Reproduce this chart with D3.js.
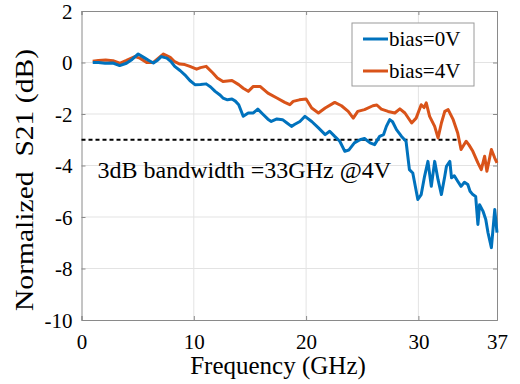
<!DOCTYPE html>
<html>
<head>
<meta charset="utf-8">
<script src="https://cdn.jsdelivr.net/npm/d3@7"></script>
<style>
  body { margin: 0; background: #fff; }
</style>
</head>
<body>
<div id="chart_div"></div>
<script>
// data
const freq_0V = [1.0, 1.5, 2.1, 2.8, 3.4, 4.0, 4.5, 5.05, 5.65, 6.0, 6.4, 6.8, 7.1, 7.6, 8.0, 8.3, 8.8, 9.2, 9.65, 10.1,
  10.6, 11.1, 11.5, 11.9, 12.3, 12.6, 13.0, 13.4, 13.7, 14.0, 14.4, 14.85, 15.3, 15.7, 16.2, 16.6, 16.9, 17.4, 17.9, 18.3,
  18.7, 19.0, 19.45, 19.9, 20.5, 21.1, 21.7, 22.1, 22.55, 23.0, 23.45, 23.8, 24.3, 24.8, 25.2, 25.7, 26.1, 26.55, 26.9, 27.15,
  27.45, 27.7, 28.05, 28.5, 28.9, 29.2, 29.5, 29.95, 30.25, 30.55, 30.85, 31.15, 31.45, 31.75, 32.05, 32.35, 32.5, 32.8, 32.95, 33.2,
  33.5, 33.8, 34.1, 34.4, 34.6, 34.85, 35.1, 35.3, 35.45, 35.75, 36.0, 36.2, 36.5, 36.8, 37.0];
const s21_0V = [0, 0, -0.03, -0.02, -0.12, -0.03, 0.12, 0.33, 0.17, 0.08, -0.02, 0.1, 0.23, 0.17, 0.02, -0.15, -0.32, -0.48, -0.7, -0.86,
  -0.85, -0.83, -0.95, -1.12, -1.25, -1.38, -1.45, -1.42, -1.5, -1.64, -2.09, -1.96, -1.96, -1.81, -2.03, -2.2, -2.29, -2.19, -2.22, -2.35,
  -2.48, -2.4, -2.29, -2.09, -2.29, -2.54, -2.8, -2.67, -2.87, -3.06, -3.45, -3.4, -3.12, -3.0, -2.95, -3.12, -3.19, -2.87, -2.8, -2.48,
  -2.22, -2.3, -2.61, -2.87, -3.06, -4.16, -4.29, -5.32, -5.13, -4.42, -3.84, -4.81, -3.84, -4.55, -5.13, -4.42, -4.03, -3.84, -4.48, -4.4,
  -4.61, -4.81, -4.65, -4.74, -5.0, -5.13, -5.2, -6.29, -5.52, -5.77, -6.1, -6.61, -7.19, -5.71, -6.61];

const freq_4V = [1.0, 1.5, 2.15, 2.8, 3.4, 4.0, 4.75, 5.2, 5.8, 6.4, 6.8, 7.3, 7.9, 8.3, 8.75, 9.2, 9.65, 10.25, 10.6, 11.1,
  11.7, 12.1, 12.6, 13.4, 14.0, 14.4, 14.85, 15.3, 15.9, 16.6, 17.4, 18.1, 18.55, 18.85, 19.4, 20.0, 20.5, 21.1, 21.7, 22.55,
  23.15, 23.75, 24.2, 24.6, 25.2, 25.95, 26.3, 26.7, 27.3, 27.9, 28.35, 28.8, 29.4, 29.8, 30.25, 30.5, 30.7, 31.0, 31.45, 31.75,
  32.05, 32.35, 32.65, 33.1, 33.5, 33.8, 34.25, 34.5, 34.85, 35.3, 35.6, 35.9, 36.1, 36.5, 36.8, 37.0];
const s21_4V = [0.05, 0.08, 0.1, 0.07, -0.03, 0.08, 0.23, 0.17, 0.0, 0, 0.15, 0.33, 0.2, 0.03, -0.06, -0.08, -0.15, -0.26, -0.2, -0.15,
  -0.41, -0.6, -0.74, -0.7, -0.86, -1.0, -1.12, -0.93, -0.93, -1.19, -1.38, -1.55, -1.64, -1.51, -1.45, -1.42, -1.77, -1.96, -1.77, -1.55,
  -1.68, -1.9, -2.16, -1.9, -1.83, -1.68, -1.65, -1.81, -1.9, -1.96, -1.8, -1.96, -2.35, -2.16, -1.64, -1.75, -1.57, -2.09, -2.48, -2.93,
  -2.35, -1.9, -1.83, -2.22, -2.74, -3.38, -3.06, -3.2, -3.45, -3.9, -4.16, -3.64, -4.22, -3.38, -3.71, -3.9];

const series_names = ["bias=0V", "bias=4V"];
const series_colors = ["#0072BD", "#D95319"];
const x_ticks = [0, 10, 20, 30, 37];
const y_ticks = [2, 0, -2, -4, -6, -8, -10];
const bw_level = -3, bw_freq = 33.4;

const serif = "'Liberation Serif', 'Times New Roman', Times, serif";

// set the dimensions and margins of the graph
const margin = {top: 11, right: 23, bottom: 64, left: 81.5},
    width = 520 - margin.left - margin.right,
    height = 384 - margin.top - margin.bottom;

const svg = d3.select("#chart_div")
  .append("svg")
    .attr("width", 520)
    .attr("height", 384)
  .append("g")
    .attr("transform", `translate(${margin.left}, ${margin.top})`);

const x = d3.scaleLinear().domain([0, 37]).range([0, width]);
const y = d3.scaleLinear().domain([-10, 2]).range([height, 0]);

// grid
svg.append("g")
  .selectAll("line")
  .data(x_ticks.slice(1, -1))
  .join("line")
    .attr("x1", d => x(d)).attr("x2", d => x(d))
    .attr("y1", 0).attr("y2", height)
    .attr("stroke", "#e3e3e3");
svg.append("g")
  .selectAll("line")
  .data(y_ticks.slice(1, -1))
  .join("line")
    .attr("x1", 0).attr("x2", width)
    .attr("y1", d => y(d)).attr("y2", d => y(d))
    .attr("stroke", "#e3e3e3");

// axes (ticks inward, box on)
const axisColor = "#8a8a8a";
const xAxis = svg.append("g")
  .attr("transform", `translate(0, ${height})`)
  .call(d3.axisBottom(x).tickValues(x_ticks).tickSize(-4).tickPadding(10).tickFormat(d3.format("d")));
const yAxis = svg.append("g")
  .call(d3.axisLeft(y).tickValues(y_ticks).tickSize(-4).tickPadding(9).tickFormat(d => d));
svg.append("g")
  .call(d3.axisTop(x).tickValues(x_ticks).tickSize(-4).tickFormat(""));
svg.append("g")
  .attr("transform", `translate(${width}, 0)`)
  .call(d3.axisRight(y).tickValues(y_ticks).tickSize(-4).tickFormat(""));
svg.selectAll("g").attr("font-family", serif);
svg.selectAll(".domain, .tick line").attr("stroke", axisColor);
svg.selectAll(".tick text")
  .attr("font-size", 21)
  .attr("fill", "#000");
xAxis.selectAll(".tick text").attr("dy", "0.9em");
yAxis.selectAll(".tick text").attr("dy", "0.34em");

// 3dB reference line
svg.append("line")
  .attr("x1", x(0)).attr("x2", x(bw_freq))
  .attr("y1", y(bw_level)).attr("y2", y(bw_level))
  .attr("stroke", "#000")
  .attr("stroke-width", 2)
  .attr("stroke-dasharray", "4,3");

svg.append("text")
  .attr("x", 16)
  .attr("y", 167)
  .attr("font-family", serif)
  .attr("font-size", 24)
  .text("3dB bandwidth =33GHz @4V");

// curves
const line = d3.line()
  .x(d => x(d[0]))
  .y(d => y(d[1]));

const curves = [d3.zip(freq_0V, s21_0V), d3.zip(freq_4V, s21_4V)];
// orange first so blue sits on top at low freq
svg.append("path")
  .datum(curves[1])
  .attr("fill", "none")
  .attr("stroke", series_colors[1])
  .attr("stroke-width", 3)
  .attr("stroke-linejoin", "round")
  .attr("d", line);
svg.append("path")
  .datum(curves[0])
  .attr("fill", "none")
  .attr("stroke", series_colors[0])
  .attr("stroke-width", 3)
  .attr("stroke-linejoin", "round")
  .attr("d", line);

// legend
const legend = svg.append("g").attr("transform", `translate(${352 - margin.left}, ${23 - margin.top})`);
legend.append("rect")
  .attr("width", 122).attr("height", 63)
  .attr("fill", "#fff")
  .attr("stroke", "#9a9a9a");
series_names.forEach((name, i) => {
  legend.append("line")
    .attr("x1", 11).attr("x2", 36)
    .attr("y1", 16 + i * 32).attr("y2", 16 + i * 32)
    .attr("stroke", series_colors[i])
    .attr("stroke-width", 3);
  legend.append("text")
    .attr("x", 37)
    .attr("y", 23 + i * 32)
    .attr("font-family", serif)
    .attr("font-size", 21)
    .text(name);
});

// axis labels
svg.append("text")
  .attr("text-anchor", "middle")
  .attr("x", 278 - margin.left)
  .attr("y", 374 - margin.top)
  .attr("font-family", serif)
  .attr("font-size", 25)
  .text("Frequency (GHz)");

svg.append("text")
  .attr("text-anchor", "middle")
  .attr("transform", `translate(${33 - margin.left}, ${180 - margin.top}) rotate(-90)`)
  .attr("font-family", serif)
  .attr("font-size", 25)
  .attr("textLength", 262)
  .attr("lengthAdjust", "spacingAndGlyphs")
  .text("Normalized\u00a0\u00a0S21 (dB)");
</script>
</body>
</html>
